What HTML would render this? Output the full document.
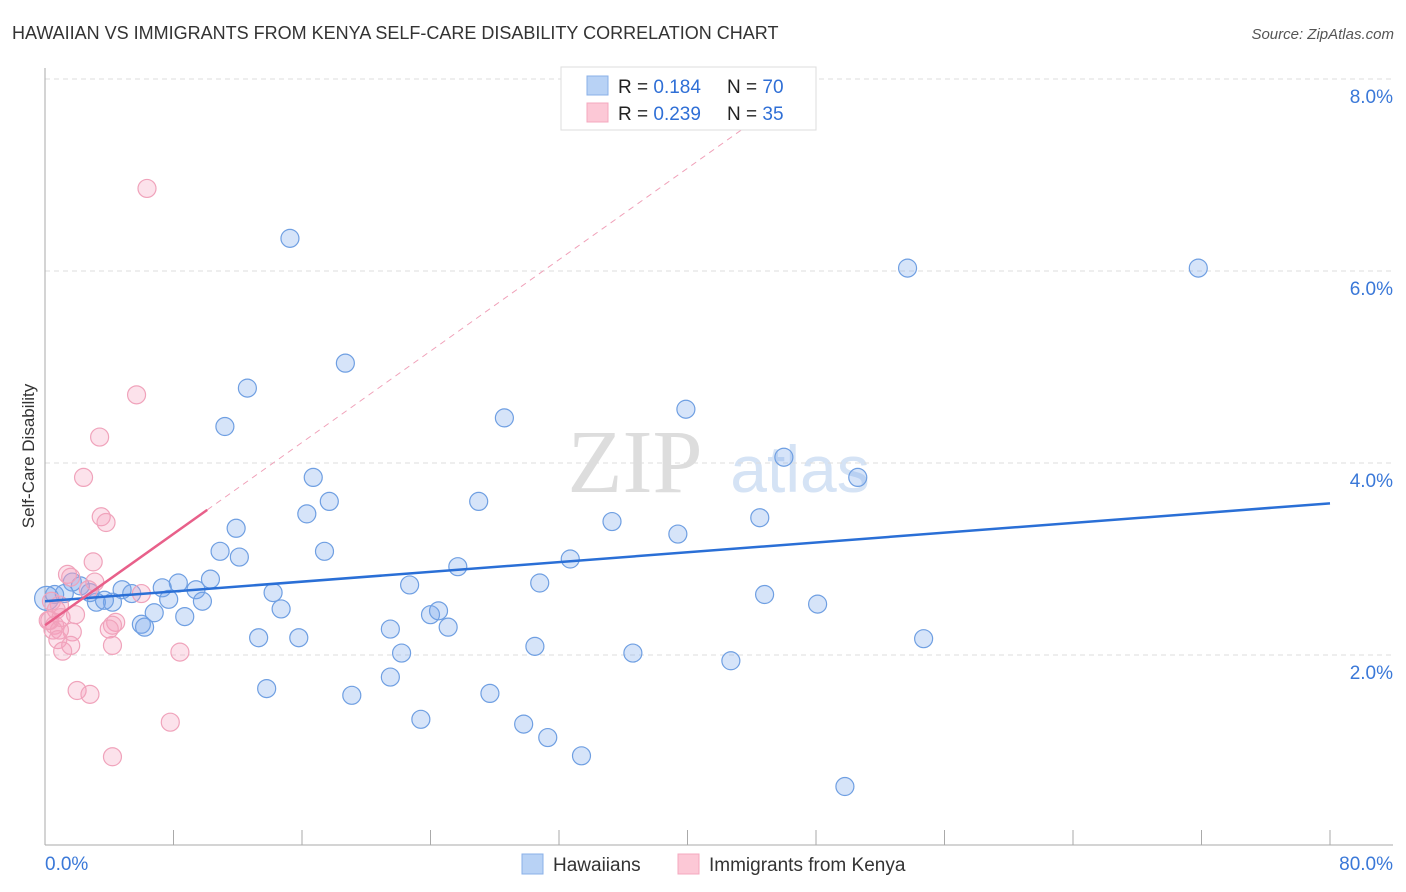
<!DOCTYPE html>
<html><head><meta charset="utf-8"><style>
body{margin:0;background:#fff;font-family:"Liberation Sans",sans-serif;}
svg{display:block}
</style></head><body>
<svg id="c" width="1406" height="892">
<text x="12" y="39" font-size="18" fill="#333">HAWAIIAN VS IMMIGRANTS FROM KENYA SELF-CARE DISABILITY CORRELATION CHART</text>
<text x="1394" y="39" font-size="15" fill="#555" font-style="italic" text-anchor="end">Source: ZipAtlas.com</text>
<text x="34" y="456" font-size="17" fill="#333" text-anchor="middle" transform="rotate(-90 34 456)">Self-Care Disability</text>
<text x="635" y="492" font-size="90" fill="#ddd" font-family="Liberation Serif" text-anchor="middle">ZIP</text>
<text x="800" y="492" font-size="66" fill="#d5e3f5" text-anchor="middle">atlas</text>
<g id="grid"></g><g id="pts"></g><g id="lines"></g>
<g>
<rect x="561" y="67" width="255" height="63" fill="#fff" stroke="#ddd"/>
<rect x="587" y="76" width="21" height="19" fill="#b8d2f5" stroke="#8ab0e8"/>
<rect x="587" y="103" width="21" height="19" fill="#fcc8d6" stroke="#f4a8bf"/>
<text x="618" y="93" font-size="19" fill="#222">R = <tspan fill="#2f6fd6">0.184</tspan><tspan x="727">N = </tspan><tspan fill="#2f6fd6">70</tspan></text>
<text x="618" y="120" font-size="19" fill="#222">R = <tspan fill="#2f6fd6">0.239</tspan><tspan x="727">N = </tspan><tspan fill="#2f6fd6"> 35</tspan></text>
</g>
<g>
<rect x="522" y="854" width="21" height="20" fill="#b8d2f5" stroke="#8ab0e8"/>
<text x="553" y="871" font-size="19" fill="#333">Hawaiians</text>
<rect x="678" y="854" width="21" height="20" fill="#fcc8d6" stroke="#f4a8bf"/>
<text x="709" y="871" font-size="19" fill="#333">Immigrants from Kenya</text>
</g>
</svg>
<script>
const xTickLabels=["0.0%","80.0%"];
const yTicks=[2,4,6,8];
const blueX=[15.25,53.7,71.8,18.7,12.6,11.2,28.6,39.9,46.0,50.6,16.7,17.7,16.3,27.0,35.3,44.5,39.4,11.9,10.9,12.1,17.4,32.7,25.7,10.3,8.3,7.3,9.4,22.7,30.8,14.2,44.8,4.8,5.4,7.7,9.8,4.2,3.2,3.7,2.2,1.7,1.2,0.6,0.1,2.8,48.1,14.7,6.8,8.7,24.0,24.5,6.0,6.2,25.1,21.5,13.3,15.8,54.7,30.5,22.2,36.6,42.7,21.5,13.8,19.1,27.7,23.4,29.8,31.3,33.4,49.8];
const blueY=[6.34,6.03,6.03,5.04,4.78,4.38,4.47,4.56,4.06,3.85,3.85,3.60,3.47,3.60,3.39,3.43,3.26,3.32,3.08,3.02,3.08,3.00,2.92,2.79,2.75,2.70,2.68,2.73,2.75,2.65,2.63,2.68,2.64,2.58,2.56,2.55,2.55,2.57,2.72,2.76,2.64,2.63,2.59,2.65,2.53,2.48,2.44,2.40,2.42,2.46,2.32,2.29,2.29,2.27,2.18,2.18,2.17,2.09,2.02,2.02,1.94,1.77,1.65,1.58,1.60,1.33,1.28,1.14,0.95,0.63];
const pinkX=[6.35,5.7,3.4,2.4,3.5,3.8,3.0,1.4,1.6,3.1,6.0,2.7,0.4,0.9,0.7,1.9,0.3,0.6,0.5,4.4,4.2,1.7,0.9,4.0,0.8,1.6,1.1,4.2,8.4,2.0,2.8,7.8,4.2,0.2,1.0];
const pinkY=[6.86,4.71,4.27,3.85,3.44,3.38,2.97,2.84,2.81,2.76,2.64,2.68,2.56,2.52,2.47,2.42,2.36,2.31,2.26,2.34,2.31,2.24,2.26,2.27,2.16,2.10,2.04,2.10,2.03,1.63,1.59,1.30,0.94,2.36,2.39];
const blueTrend=[2.56,3.58];
const pinkTrend=[2.31,0.119];
const X=v=>45+v*1285/80, Y=v=>847-v*96;
const NS="http://www.w3.org/2000/svg";
function mk(p,t,a){const e=document.createElementNS(NS,t);for(const k in a)e.setAttribute(k,a[k]);p.appendChild(e);return e;}
const g=document.getElementById('grid');
yTicks.forEach(t=>{
 const l=mk(g,'line',{x1:45,x2:1393,y1:Y(t),y2:Y(t),stroke:'#ddd','stroke-dasharray':'5,4'});
 
 
 const tx=mk(g,'text',{x:1393,y:Y(t)+24,'font-size':19,fill:'#3a78d8','text-anchor':'end'});
 tx.textContent=t.toFixed(1)+'%';
 
 
});
mk(g,'line',{x1:45,x2:45,y1:68,y2:845,stroke:'#aaa'});
mk(g,'line',{x1:45,x2:1393,y1:845,y2:845,stroke:'#aaa'});
for(let i=0;i<=10;i++){const t=mk(g,'line',{x1:X(i*8),x2:X(i*8),y1:830,y2:845,stroke:'#aaa'});
 
 }
const xl0=mk(g,'text',{x:45,y:870,'font-size':19,fill:'#3a78d8'});xl0.textContent=xTickLabels[0];


const xl1=mk(g,'text',{x:1393,y:870,'font-size':19,fill:'#3a78d8','text-anchor':'end'});xl1.textContent=xTickLabels[1];


const p=document.getElementById('pts');
blueX.forEach((x,i)=>{const c=mk(p,'circle',{cx:X(x),cy:Y(blueY[i]),r:i==42?12:9,fill:'rgba(120,165,235,0.3)',stroke:'#6f9fe2','stroke-width':1.2});
 
 });
pinkX.forEach((x,i)=>{const c=mk(p,'circle',{cx:X(x),cy:Y(pinkY[i]),r:9,fill:'rgba(245,160,190,0.3)',stroke:'#f0a3bb','stroke-width':1.2});
 
 });
const L=document.getElementById('lines');
const bl=mk(L,'line',{x1:X(0),y1:Y(blueTrend[0]),x2:X(80),y2:Y(blueTrend[1]),stroke:'#2a6fd6','stroke-width':2.5});


const pd=mk(L,'line',{x1:X(10.1),y1:Y(pinkTrend[0]+pinkTrend[1]*10.1),x2:X(43.9),y2:Y(pinkTrend[0]+pinkTrend[1]*43.9),stroke:'#f0a0b8','stroke-width':1,'stroke-dasharray':'6,5'});


const pl=mk(L,'line',{x1:X(0),y1:Y(pinkTrend[0]),x2:X(10.1),y2:Y(pinkTrend[0]+pinkTrend[1]*10.1),stroke:'#e8608a','stroke-width':2.5});


</script>
</body></html>
